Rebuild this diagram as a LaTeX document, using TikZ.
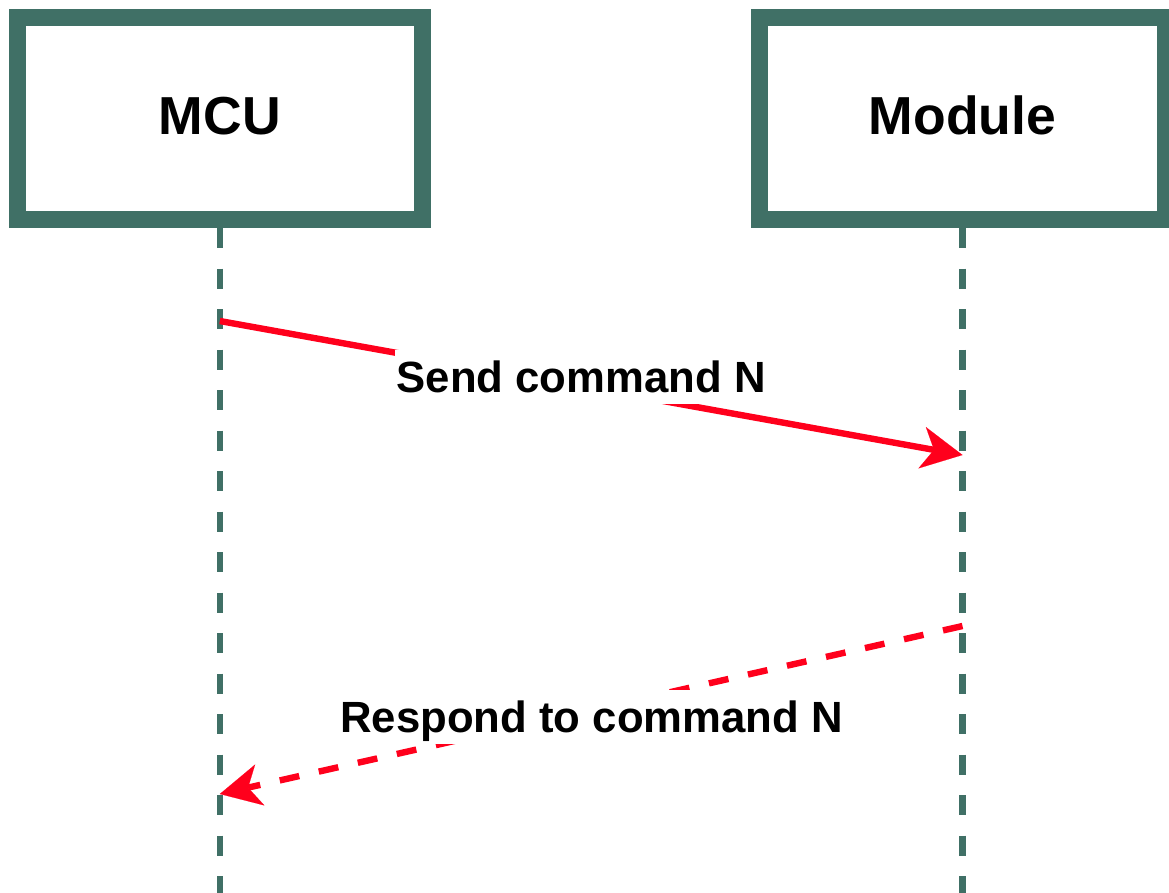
\documentclass[tikz,border=0pt]{standalone}
\usepackage{fontspec}
\setmainfont{Liberation Sans}
\usetikzlibrary{arrows.meta}
\definecolor{frame}{RGB}{64,112,102}
\definecolor{msg}{RGB}{255,0,28}
\begin{document}
\begin{tikzpicture}[x=1pt,y=-1pt,
  actor/.style={draw=frame, line width=17pt, fill=white,
    minimum width=405.5pt, minimum height=202pt, inner sep=0pt,
    font=\bfseries\fontsize{53.5}{60}\selectfont, text height=39pt, text depth=7.6pt},
  lifeline/.style={draw=frame, line width=6.5pt, dash pattern=on 20.25pt off 20.25pt},
  call/.style={draw=msg, line width=6.4pt,
    -{Stealth[length=41pt,width=42pt,inset=12pt,line width=0.1pt]}},
  reply/.style={call, dash pattern=on 20pt off 20pt},
  msglabel/.style={fill=white, font=\bfseries\fontsize{43.7}{50}\selectfont,
    text height=31.5pt, text depth=0pt, inner xsep=1.5pt, inner ysep=11.25pt}
]
\clip (0,0) rectangle (1169,892);

% participants
\node[actor] (mcu) at (219.8,118.5) {MCU};
\node[actor] (module) at (962.5,118.5) {Module};

% lifelines
\path (mcu.south) ++(0,680) coordinate (mcuFoot);
\path (module.south) ++(0,680) coordinate (moduleFoot);
\draw[lifeline] (mcu.south) -- (mcuFoot);
\draw[lifeline] (module.south) -- (moduleFoot);

% message anchor points on the lifelines
\coordinate (sendFrom) at (mcu.south |- 0,321);
\coordinate (sendTo) at (module.south |- 0,455);
\coordinate (replyFrom) at (module.south |- 0,626);
\coordinate (replyTo) at (mcu.south |- 0,794);

% messages
\draw[call] (sendFrom) -- node[msglabel, pos=0.4865, yshift=9pt] {Send command N} (sendTo);
\draw[reply] (replyFrom) -- node[msglabel, pos=0.4993, yshift=-6.8pt] {Respond to command N} (replyTo);
\end{tikzpicture}
\end{document}
